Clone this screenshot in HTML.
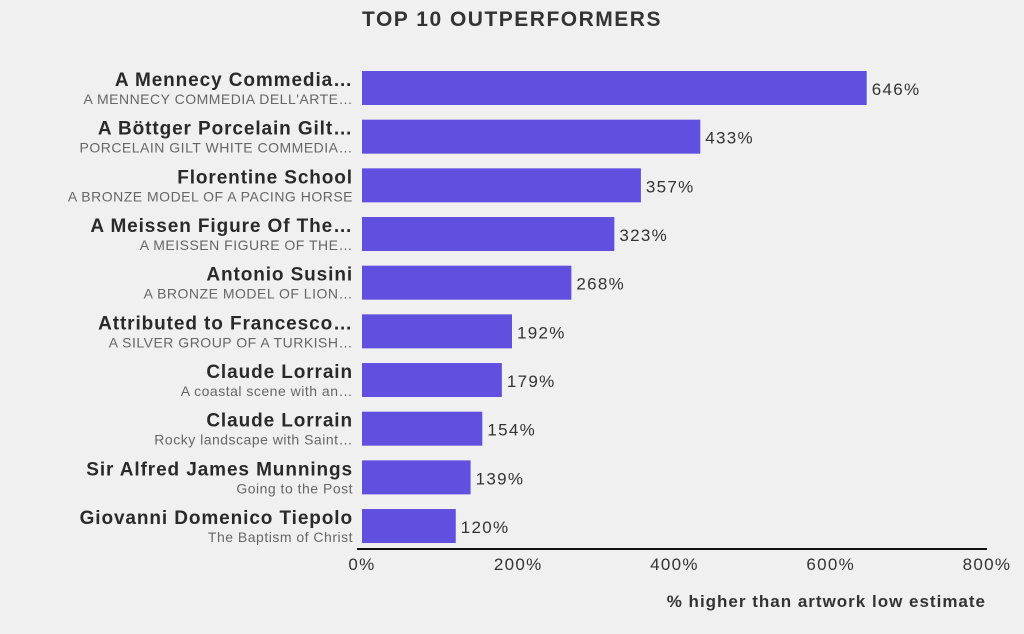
<!DOCTYPE html>
<html><head><meta charset="utf-8"><style>
body{margin:0;background:#f0f0f0;font-family:"Liberation Sans",sans-serif;}
svg{display:block}
</style></head><body>
<svg id="chart" width="1024" height="634">
<text x="512" y="26" text-anchor="middle" font-size="21" letter-spacing="1.5" font-weight="bold" fill="#333">TOP 10 OUTPERFORMERS</text>
<g id="bars"></g>
<line x1="357" y1="549" x2="987" y2="549" stroke="#111" stroke-width="2"/>
<g id="ticks"></g>
<text x="986" y="607" text-anchor="end" font-size="17" letter-spacing="1" font-weight="bold" fill="#333">% higher than artwork low estimate</text>
</svg>
<script>
const names=["A Mennecy Commedia…","A Böttger Porcelain Gilt…","Florentine School","A Meissen Figure Of The…","Antonio Susini","Attributed to Francesco…","Claude Lorrain","Claude Lorrain","Sir Alfred James Munnings","Giovanni Domenico Tiepolo"];
const subtitles=["A MENNECY COMMEDIA DELL'ARTE…","PORCELAIN GILT WHITE COMMEDIA…","A BRONZE MODEL OF A PACING HORSE","A MEISSEN FIGURE OF THE…","A BRONZE MODEL OF LION…","A SILVER GROUP OF A TURKISH…","A coastal scene with an…","Rocky landscape with Saint…","Going to the Post","The Baptism of Christ"];
const values=[646,433,357,323,268,192,179,154,139,120];
const tickValues=[0,200,400,600,800];
const ns="http://www.w3.org/2000/svg";
const x0=362,x1=987,xMax=800;
const xs=v=>x0+(v/xMax)*(x1-x0);
const ys=i=>71+i*48.67;
const bh=34;
const bars=document.getElementById('bars');
function mk(tag,attrs,parent,text){const e=document.createElementNS(ns,tag);for(const k in attrs)e.setAttribute(k,attrs[k]);if(text!==undefined)e.textContent=text;parent.appendChild(e);return e;}
values.forEach((v,i)=>{
 const y=ys(i);
 const r=mk('rect',{x:x0,y:y,width:xs(v)-x0,height:bh,fill:'#6150e0'},bars);
 
 
 const vl=mk('text',{x:xs(v)+5,y:y+24,'font-size':17,'letter-spacing':1.3,fill:'#333'},bars,v+'%');
 
 
 const n=mk('text',{x:353,y:y+15,'text-anchor':'end','font-size':19,'letter-spacing':0.9,'font-weight':'bold',fill:'#2a2a2a'},bars,names[i]);
 
 
 const s=mk('text',{x:353,y:y+33,'text-anchor':'end','font-size':14,'letter-spacing':0.5,fill:'#666'},bars,subtitles[i]);
 
 
});
const ticks=document.getElementById('ticks');
tickValues.forEach(t=>{
 const e=mk('text',{x:xs(t),y:570,'text-anchor':'middle','font-size':17,'letter-spacing':1.3,fill:'#333'},ticks,t+'%');
 
 
});
</script>
</body></html>
